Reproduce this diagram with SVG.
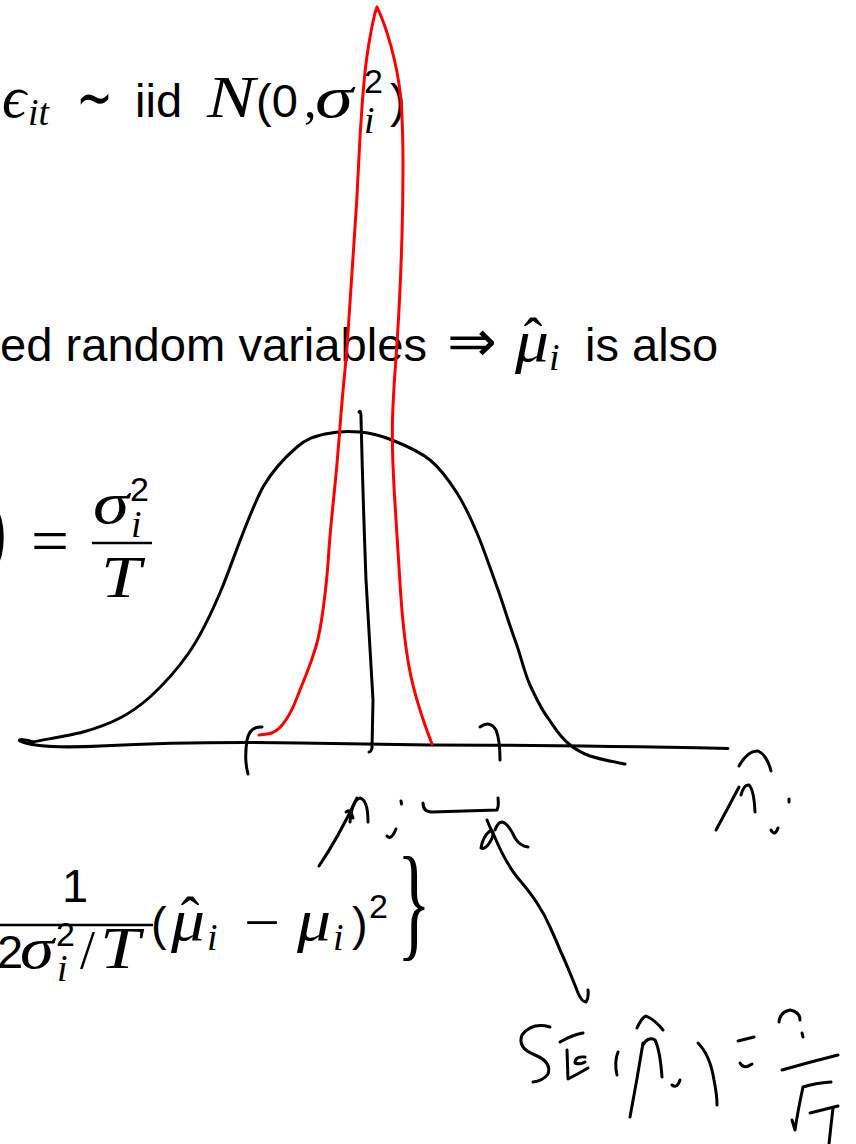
<svg xmlns="http://www.w3.org/2000/svg" width="856" height="1144" viewBox="0 0 856 1144">
<style>
.sf{font-family:"Liberation Sans",Arial,sans-serif;font-size:47px;fill:#000}
.mi{font-family:"Liberation Serif","DejaVu Serif",serif;font-style:italic;font-size:60px;fill:#000}
.mr{font-family:"Liberation Serif","DejaVu Serif",serif;fill:#000}
.sub{font-family:"Liberation Serif","DejaVu Serif",serif;font-style:italic;font-size:38px;fill:#000}
.sup{font-family:"Liberation Sans",Arial,sans-serif;font-size:34px;fill:#000}
.bar{stroke:#000;stroke-width:2.4}
.ink{fill:none;stroke:#000;stroke-width:3;stroke-linecap:round;stroke-linejoin:round}
.red{fill:none;stroke:#ff0000;stroke-width:3;stroke-linecap:round;stroke-linejoin:round}
</style>
<rect width="856" height="1144" fill="#fff"/>

<g id="line1">
<text class="mi" x="2" y="117">ϵ</text>
<text class="sub" x="28" y="125">it</text>
<text x="76" y="119" font-family="DejaVu Sans,sans-serif" font-size="64" textLength="37" lengthAdjust="spacingAndGlyphs">∼</text>
<text class="sf" x="135" y="117">iid</text>
<text class="mi" x="207" y="117" textLength="48" lengthAdjust="spacingAndGlyphs">N</text>
<text class="sf" x="256" y="117">(0</text>
<text class="mr" x="304" y="117" style="font-size:50px">,</text>
<text class="mi" x="315" y="117" textLength="38" lengthAdjust="spacingAndGlyphs">σ</text>
<text class="sup" x="364" y="93">2</text>
<text class="sub" x="364" y="133">i</text>
<text class="sf" x="390" y="117">)</text>
</g>

<g id="line2">
<text class="sf" x="0" y="361" textLength="427" lengthAdjust="spacingAndGlyphs">ed random variables</text>
<text x="447" y="361" font-family="DejaVu Sans,sans-serif" font-size="58" textLength="50" lengthAdjust="spacingAndGlyphs">⇒</text>
<text class="mi" x="515" y="361" textLength="34" lengthAdjust="spacingAndGlyphs">μ</text>
<text class="mr" x="533" y="357" text-anchor="middle" style="font-size:56px">ˆ</text>
<text class="sub" x="549" y="370">i</text>
<text class="sf" x="585" y="361">is also</text>
</g>

<g id="line3">
<text class="sf" transform="translate(-9,556) scale(1,1.55)" x="0" y="0">)</text>
<text class="mr" x="31" y="562" style="font-size:64px" textLength="38" lengthAdjust="spacingAndGlyphs">=</text>
<text class="mi" x="93" y="523" textLength="36" lengthAdjust="spacingAndGlyphs">σ</text>
<text class="sup" x="130" y="501">2</text>
<text class="sub" x="131" y="537">i</text>
<line class="bar" x1="92" y1="543" x2="152" y2="543"/>
<text class="mi" x="101" y="597" textLength="40" lengthAdjust="spacingAndGlyphs">T</text>
</g>

<g id="line4">
<text class="sf" x="62" y="902">1</text>
<line class="bar" x1="0" y1="925" x2="153" y2="925"/>
<text class="sf" x="-3" y="968">2</text>
<text class="mi" x="20" y="968" textLength="34" lengthAdjust="spacingAndGlyphs">σ</text>
<text class="sup" x="56" y="946">2</text>
<text class="sub" x="57" y="981">i</text>
<text class="mr" x="80" y="968" style="font-size:54px">/</text>
<text class="mi" x="100" y="968" textLength="40" lengthAdjust="spacingAndGlyphs">T</text>
<text class="sf" x="151" y="940">(</text>
<text class="mi" x="171" y="940" textLength="34" lengthAdjust="spacingAndGlyphs">μ</text>
<text class="mr" x="190" y="936" text-anchor="middle" style="font-size:56px">ˆ</text>
<text class="sub" x="207" y="950">i</text>
<text class="mr" x="244" y="942" style="font-size:58px" textLength="36" lengthAdjust="spacingAndGlyphs">−</text>
<text class="mi" x="297" y="940" textLength="34" lengthAdjust="spacingAndGlyphs">μ</text>
<text class="sub" x="333" y="950">i</text>
<text class="sf" x="352" y="940">)</text>
<text class="sup" x="369" y="918">2</text>
<text class="mr" transform="translate(397,944) scale(0.55,1)" style="font-size:128px">}</text>
</g>

<g id="bell">
<path class="ink" d="M33,742 C41,740 68.5,736 83,732 C97.5,728 108.8,723.8 120,718 C131.2,712.2 141,705 150,697 C162,686 176,671 188,654 C200,637 212,612 222,588 C232,564 248,515 263,487 C274.2,467.7 286.7,455.8 297,447 C307.3,438.2 314.5,436.5 325,434 C335.5,431.5 348.8,431 360,432 C371.2,433 380.3,435.3 392,440 C403.7,444.7 419.2,451.2 430,460 C440.8,468.8 449.2,480.8 457,493 C464.8,505.2 470.3,517.3 477,533 C483.7,548.7 490.3,568.7 497,587 C503.7,605.3 509,624 515,640 C521,656 524,672 530,685 C536,698 541,709 548,718 C555,728 560,737 569,744 C575.5,749.5 580.7,752.7 590,756 C599.3,759.3 619.2,762.7 625,764"/>
<path class="ink" d="M33,742 C26,739 17,739 20,741 C30,746 60,748 100,746 C160,743 240,742 300,743 L430,745 C500,745 600,746 728,748.5"/>
<path class="ink" d="M359,412 Q361,409 361,418 Q363,500 366,580 Q370,650 373,700 L372,748 Q371,752 369,752"/>
<path class="ink" d="M262,727 Q250,726 247,740 Q244,760 248,774"/>
<path class="ink" d="M480,727 Q490,720 496,730 Q500,740 500,760"/>
</g>

<g id="red-curve">
<path class="red" d="M259,735 L267.5,734 Q276,733 283,724 Q290,715 295,702.5 Q300,690 306,675 Q312,660 316,646.5 Q320,633 323.5,606.5 Q327,580 328.5,556.5 Q330,533 333.5,500 Q337,467 339.5,433.5 Q342,400 344.5,375 Q347,350 349.5,310 Q352,270 354.5,235 Q357,200 358.5,166.5 Q360,133 362.5,100 Q365,67 368.5,46 Q372,25 375,13 L377,7 L381,16 Q388,33 394,58 Q400,83 401.5,108 Q403,133 403,166.5 Q403,200 402,235 Q401,270 399.5,300 Q398,330 395.5,365 Q393,400 392.5,420 Q392,440 393,465 Q394,490 395.5,511.5 Q397,533 400,583 Q403,633 409,666.5 Q415,700 432,744"/>
</g>

<g id="labels-axis">
<path class="ink" d="M319,866 Q338,838 357,798"/>
<path class="ink" d="M350,822 Q352,800 360,798 Q368,800 368,822"/>
<path class="ink" d="M346,812 Q350,808 353,818"/>
<path class="ink" d="M387,836 Q391,841 396,829"/>
<path class="ink" d="M401,801 L401.5,804"/>
<path class="ink" d="M423,803 Q423,812 432,812 L497,810 Q499,806 498,798"/>
<path class="ink" d="M739,766 Q748,750 758,751 Q767,755 771,771"/>
<path class="ink" d="M716,830 Q728,808 739,787"/>
<path class="ink" d="M741,795 Q744,784 749,785 Q754,790 755,812"/>
<path class="ink" d="M771,830 Q775,837 778,828"/>
<path class="ink" d="M789,799 L789,802"/>
</g>

<g id="se-arrow">
<path class="ink" d="M481,848 Q483,836 490,831 Q496,832 490,842 Q485,850 481,848"/>
<path class="ink" d="M487,820 Q490,828 493,833 Q505,862 517,877 Q530,892 537,903 Q545,915 550,927 Q556,940 560,950 Q566,963 570,973 Q575,985 578,993 Q582,1002 586,1002 Q589,998 588,990"/>
<path class="ink" d="M495,830 Q498,822 502,822 Q508,823 515,838 Q520,846 528,847"/>
</g>

<g id="se-formula">
<path class="ink" d="M550,1027 Q532,1022 522,1035 Q517,1048 535,1055 Q552,1062 548,1074 Q543,1081 533,1082"/>
<path class="ink" d="M560,1042 Q572,1035 583,1033"/>
<path class="ink" d="M567,1050 L568,1079 Q578,1074 588,1068"/>
<path class="ink" d="M585,1057 Q575,1056 575,1063 Q580,1065 585,1062"/>
<path class="ink" d="M618,1052 Q614,1062 617,1075"/>
<path class="ink" d="M637,1028 Q642,1017 646,1016 Q655,1020 663,1030"/>
<path class="ink" d="M630,1117 Q637,1080 643,1043"/>
<path class="ink" d="M643,1045 Q648,1036 655,1040 Q660,1050 662,1077"/>
<path class="ink" d="M672,1085 Q677,1089 680,1080"/>
<path class="ink" d="M698,1043 Q710,1055 714,1080 Q717,1095 717,1105"/>
<path class="ink" d="M738,1041 L754,1037"/>
<path class="ink" d="M740,1063 Q744,1070 752,1064"/>
<path class="ink" d="M779,1022 Q780,1012 790,1010 Q800,1012 800,1020"/>
<path class="ink" d="M802,1033 L803,1037"/>
<path class="ink" d="M782,1070 Q810,1062 838,1055"/>
<path class="ink" d="M792,1120 L795,1130 Q798,1110 803,1087 Q815,1083 831,1082"/>
<path class="ink" d="M810,1113 L838,1106"/>
<path class="ink" d="M833,1108 Q831,1125 829,1144"/>
</g>
</svg>
